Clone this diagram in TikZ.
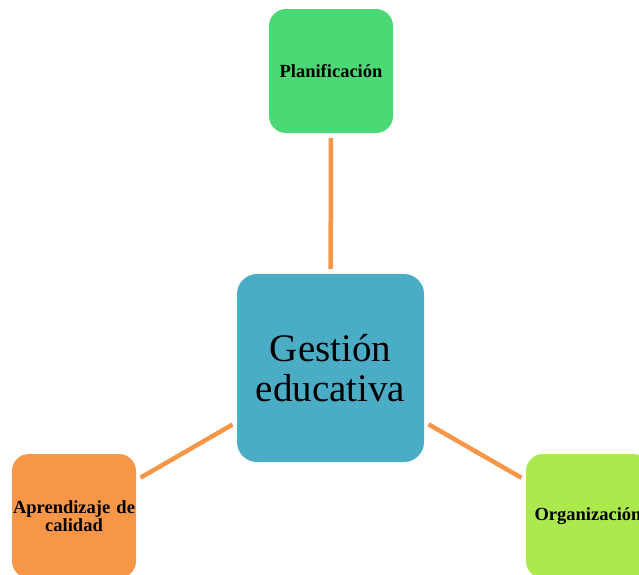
\documentclass[tikz,border=0pt]{standalone}
\usepackage{fontspec}
\setmainfont{Liberation Serif}
\definecolor{cblue}{RGB}{75,172,198}
\definecolor{cgreen}{RGB}{74,217,116}
\definecolor{clime}{RGB}{171,233,76}
\definecolor{corange}{RGB}{247,150,70}
\tikzset{
  hub/.style={rectangle, rounded corners=20pt, fill=cblue, minimum width=187pt, minimum height=188pt, inner sep=0pt, align=center, font=\fontsize{39}{40}\selectfont},
  leaf/.style={rectangle, rounded corners=17pt, minimum width=124pt, minimum height=124pt, inner ysep=0pt, inner xsep=-4pt, text width=132pt, align=center, font=\fontsize{18.5}{18.5}\selectfont\bfseries},
  link/.style={draw=corange, line width=4.5pt, shorten >=5pt, shorten <=5pt}
}
\begin{document}
\begin{tikzpicture}[x=1pt,y=-1pt]
\useasboundingbox (0,0) rectangle (639,574);
\clip (0,0) rectangle (639,574);
\node[hub] (c) at (330.5,368) {Gestión\\educativa};
\node[leaf, fill=cgreen] (t) at (331,71) {Planificación};
\node[leaf, fill=corange] (l) at (74,516) {Aprendizaje de\\calidad};
\node[leaf, fill=clime] (r) at (588,516) {Organización};
\draw[link] (c) -- (t);
\draw[link] (c) -- (l);
\draw[link] (c) -- (r);
\end{tikzpicture}
\end{document}
